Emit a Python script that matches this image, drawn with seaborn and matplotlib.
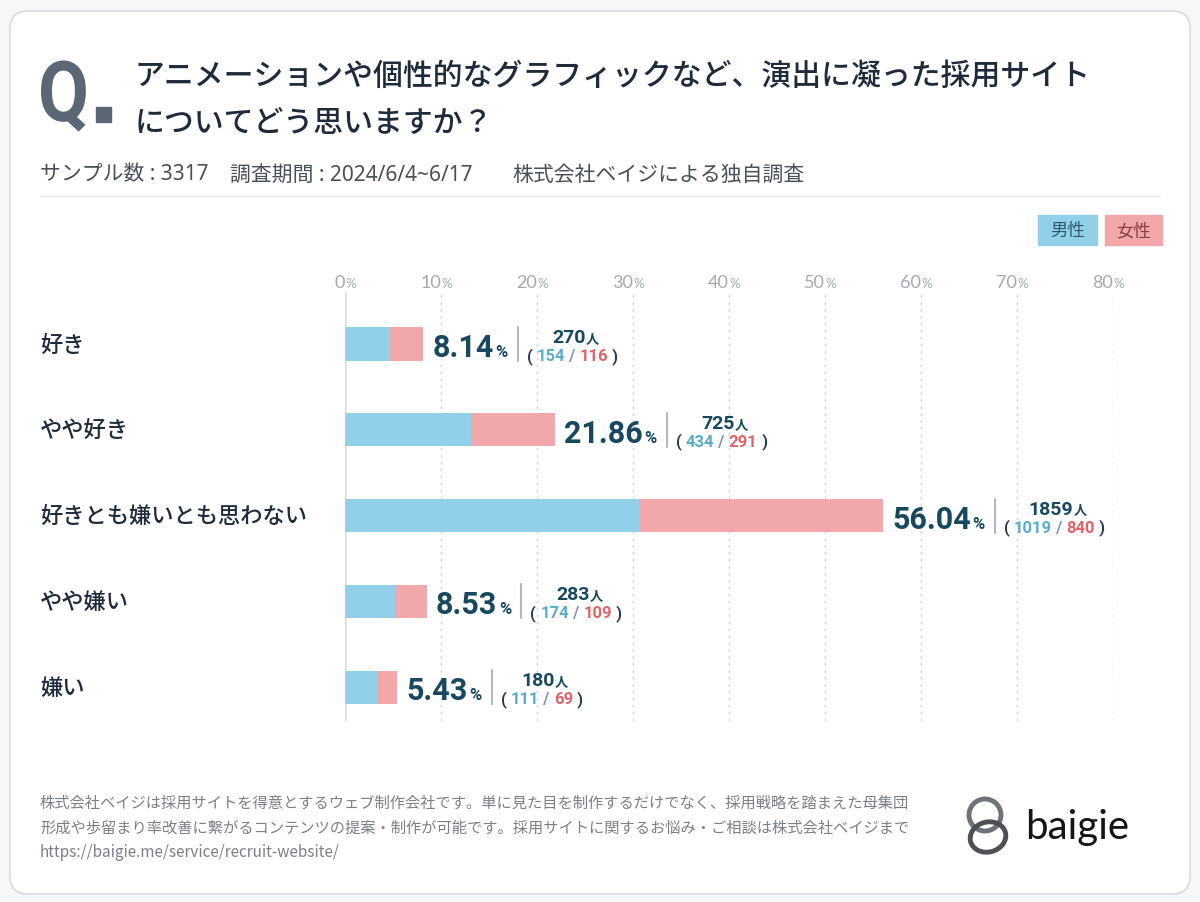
import numpy as np
import pandas as pd
import matplotlib
matplotlib.use("Agg")
import matplotlib.pyplot as plt
from matplotlib.patches import FancyBboxPatch, Ellipse, Rectangle, PathPatch
from matplotlib.lines import Line2D
from matplotlib.textpath import TextPath
from matplotlib.font_manager import FontProperties
from matplotlib.transforms import Affine2D, blended_transform_factory
import seaborn as sns

# data
categories = ["好き", "やや好き", "好きとも嫌いとも思わない", "やや嫌い", "嫌い"]
total_pct = [8.14, 21.86, 56.04, 8.53, 5.43]
total_n = [270, 725, 1859, 283, 180]
male_n = [154, 434, 1019, 174, 111]
female_n = [116, 291, 840, 109, 69]
sample_size = 3317
x_ticks = [0, 10, 20, 30, 40, 50, 60, 70, 80]

title_lines = ["アニメーションや個性的なグラフィックなど、演出に凝った採用サイト",
               "についてどう思いますか？"]
subtitle_parts = ["サンプル数 : 3317", "調査期間 : 2024/6/4~6/17", "株式会社ベイジによる独自調査"]
footer_lines = [
    "株式会社ベイジは採用サイトを得意とするウェブ制作会社です。単に見た目を制作するだけでなく、採用戦略を踏まえた母集団",
    "形成や歩留まり率改善に繋がるコンテンツの提案・制作が可能です。採用サイトに関するお悩み・ご相談は株式会社ベイジまで",
    "https://baigie.me/service/recruit-website/",
]

# colours
MALE = "#92cfe9"
FEMALE = "#f2a8aa"
MALE_TXT = "#5aaccb"
FEMALE_TXT = "#e06468"
DARK = "#18485e"
INK = "#1f2b3a"
GREY = "#a3a9b2"

sns.set_theme(style="white")
JP = ["Noto Sans CJK JP", "DejaVu Sans"]
NUM = ["Roboto", "Noto Sans CJK JP", "DejaVu Sans"]
plt.rcParams["font.family"] = JP

W, H = 1200, 903
fig = plt.figure(figsize=(12, 9.03), dpi=100)
fig.patch.set_facecolor("#f6f7f8")
PX = Affine2D().scale(1 / W, -1 / H).translate(0, 1) + fig.transFigure

# card
fig.add_artist(FancyBboxPatch((10, 12), 1180, 883, boxstyle="round,pad=0,rounding_size=18",
                              transform=PX, fc="white", ec="#d8dbe0", lw=1.2, zorder=-10))

# header: condensed "Q." mark
qpath = TextPath((0, 0), "Q", size=84, prop=FontProperties(family="Roboto", weight="bold"))
fig.add_artist(PathPatch(qpath, transform=Affine2D().scale(0.88, -1.0).translate(38, 122) + PX,
                         fc="#5c6776", ec="none"))
fig.add_artist(Rectangle((96, 108), 15, 15, transform=PX, color="#5c6776"))
fig.text(135, 76, title_lines[0], transform=PX, fontsize=21.5, color=INK, va="center", weight="medium")
fig.text(135, 123, title_lines[1], transform=PX, fontsize=21.5, color=INK, va="center", weight="medium")
for x0, part in zip([40, 230, 512], subtitle_parts):
    fig.text(x0, 175, part, transform=PX, fontsize=15, color="#4a5058", va="center",
             family=["Noto Sans", "Noto Sans CJK JP"])
fig.add_artist(Line2D([40, 1160], [197, 197], transform=PX, color="#e4e7ea", lw=1))

# legend chips
for (x0, x1), lab, fc, tc in [((1038, 1097), "男性", MALE, "#2c5a70"), ((1105, 1162), "女性", FEMALE, "#8a3c40")]:
    fig.add_artist(Rectangle((x0, 216), x1 - x0, 30, transform=PX, color=fc))
    fig.text((x0 + x1) / 2, 231, lab, transform=PX, fontsize=12.5, color=tc, ha="center", va="center")

# chart
ax = fig.add_axes([345 / W, 1 - 722 / H, 768 / W, 430 / H])
male_pct = [m / sample_size * 100 for m in male_n]
df = pd.DataFrame({"category": categories, "total": total_pct, "male": male_pct})
sns.barplot(data=df, y="category", x="total", color=FEMALE, saturation=1, width=0.385,
            linewidth=0, ax=ax)
sns.barplot(data=df, y="category", x="male", color=MALE, saturation=1, width=0.385,
            linewidth=0, ax=ax)
ax.set_xlim(0, 80)
ax.set_ylim(4.396, -0.618)
ax.set_facecolor("none")
for s in ax.spines.values():
    s.set_visible(False)
ax.set_xticks([])
ax.set_yticks([])
ax.set_xlabel("")
ax.set_ylabel("")
ax.vlines(x_ticks[1:], 0, 1, transform=ax.get_xaxis_transform(), color="#d3d7dc",
          lw=1, linestyles=(0, (2, 3)), zorder=0)
ax.vlines([x_ticks[0]], 0, 1, transform=ax.get_xaxis_transform(), color="#dcdfe3", lw=1.8, zorder=0)

# tick labels on top
XT = blended_transform_factory(ax.transData, PX)
for t in x_ticks:
    fig.text(t, 283, str(t), transform=XT, fontsize=13, family="Lato", color=GREY,
             ha="right", va="center")
    fig.text(t, 284, "%", transform=XT, fontsize=9.5, family="Lato", color=GREY,
             ha="left", va="center")

# category labels
YT = blended_transform_factory(PX, ax.transData)
for i, c in enumerate(categories):
    ax.text(40, i, c, transform=YT, fontsize=16, color=INK, va="center", weight="medium",
            clip_on=False)

renderer = fig.canvas.get_renderer()


def width_of(t):
    return t.get_window_extent(renderer).width


def run(parts, x, y, trans):
    # draw text pieces one after another, return the artists and the total width
    arts = []
    for s, size, color in parts:
        t = fig.text(x, y, s, transform=trans, fontsize=size, color=color, family=NUM,
                     weight="bold", va="baseline")
        arts.append(t)
        x += width_of(t)
    return arts, sum(width_of(a) for a in arts)


for i in range(len(categories)):
    x_end = ax.transData.transform((total_pct[i], i))[0]
    yc = H - ax.transData.transform((0, i))[1]
    num = fig.text(x_end + 9, yc + 12, f"{total_pct[i]:.2f}", transform=PX, fontsize=22,
                   weight="bold", family=NUM, color=DARK, va="baseline")
    x = x_end + 9 + width_of(num) + 2
    pc = fig.text(x, yc + 12, "%", transform=PX, fontsize=12, weight="bold", family=NUM,
                  color=DARK, va="baseline")
    x += width_of(pc) + 10
    fig.add_artist(Line2D([x, x], [yc - 17, yc + 17], transform=PX, color="#b5b9be", lw=1.5))
    x += 9
    parts = [("( ", 12, "#2a3a55"), (str(male_n[i]), 12, MALE_TXT), (" / ", 12, "#8a96a6"),
             (str(female_n[i]), 12, FEMALE_TXT), (" )", 12, "#2a3a55")]
    arts, w2 = run(parts, x, yc + 16, PX)
    top = [(str(total_n[i]), 14, DARK), ("人", 9.5, DARK)]
    arts1, w1 = run(top, 0, yc - 2, PX)
    sx = x + w2 / 2 - w1 / 2 + 3
    for a in arts1:
        a.set_x(a.get_position()[0] + sx)

# footer
for k, line in enumerate(footer_lines):
    fig.text(40, 803 + 25 * k, line, transform=PX, fontsize=11, color="#7b8087", va="center")

# logo
fig.add_artist(Ellipse((985, 816), 32, 32, transform=PX, fill=False, ec="#6f7378", lw=3.5))
fig.add_artist(Ellipse((988, 838), 36, 30, angle=-15, transform=PX, fill=False, ec="#4d5156", lw=3.5))
fig.text(1025, 828, "baigie", transform=PX, fontsize=29, family="Lato", color="#151515", va="center")

fig.savefig("out.png", dpi=100, facecolor=fig.get_facecolor())
